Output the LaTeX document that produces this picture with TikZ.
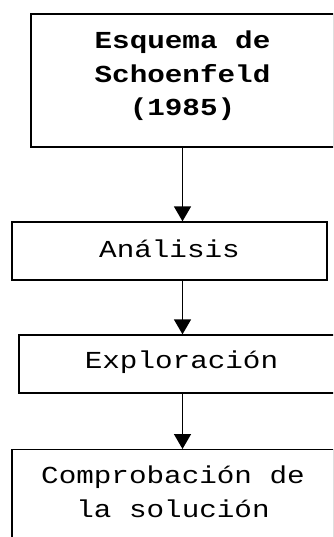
\documentclass[tikz,border=0pt]{standalone}
\usepackage{fontspec}
\setmonofont[FakeStretch=1.2]{Liberation Mono}
\usetikzlibrary{arrows.meta}
\tikzset{
  box/.style={draw, line width=1.3pt, inner sep=0pt},
  lbl/.style={font=\ttfamily\fontsize{24.4}{34}\selectfont, inner sep=0pt, align=center, anchor=base},
  blbl/.style={lbl, font=\ttfamily\bfseries\fontsize{24.4}{33.5}\selectfont},
  arr/.style={line width=1.5pt, -{Triangle[width=17pt,length=15pt]}},
}
\begin{document}
\begin{tikzpicture}[x=1pt,y=-1pt]
\useasboundingbox (0,0) rectangle (333,537);
\clip (0,0) rectangle (333,537);
\node[box, minimum width=303pt, minimum height=133pt] (schoen) at (182.5,80.5) {};
\node[blbl] (schoent) at (182.5,116) {Esquema de\\Schoenfeld\\(1985)};
\node[box, minimum width=315pt, minimum height=58pt] (ana) at (169.5,251) {};
\node[lbl] (anat) at (169.5,257) {Análisis};
\node[box, minimum width=325pt, minimum height=58pt] (explo) at (181.5,364) {};
\node[lbl] (explot) at (181.5,368) {Exploración};
\node[box, minimum width=322pt, minimum height=150pt, anchor=north] (comp) at (173,449) {};
\node[lbl] (compt) at (173,517) {Comprobación de\\la solución};
\draw[arr] (schoen.south) -- (ana.north -| schoen.south);
\draw[arr] (ana.south -| schoen.south) -- (explo.north -| schoen.south);
\draw[arr] (explo.south -| schoen.south) -- (comp.north -| schoen.south);
\end{tikzpicture}
\end{document}
